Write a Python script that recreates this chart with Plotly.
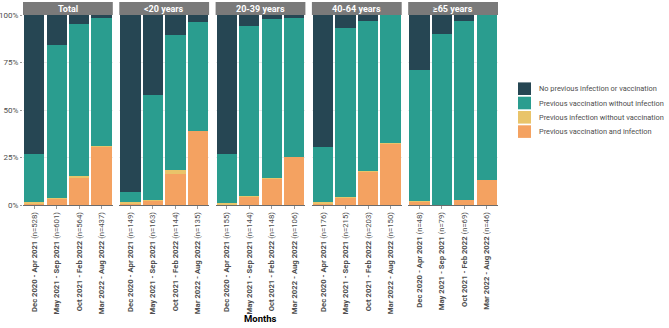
import plotly.graph_objects as go

# ---------------- data ----------------
periods = ["Dec 2020 - Apr 2021", "May 2021 - Sep 2021",
           "Oct 2021 - Feb 2022", "Mar 2022 - Aug 2022"]
groups = ["Total", "<20 years", "20-39 years", "40-64 years", "≥65 years"]
n_counts = [
    [528, 601, 564, 437],
    [149, 163, 144, 135],
    [155, 144, 148, 106],
    [176, 215, 203, 150],
    [48, 79, 69, 46],
]
# percentages per group (rows) and period (columns)
vacc_and_inf = [
    [1.0, 3.2, 14.5, 31.0],
    [0.3, 2.3, 16.5, 39.0],
    [0.5, 4.5, 13.7, 25.3],
    [0.8, 4.2, 17.5, 32.5],
    [1.8, 0.0, 2.8, 13.0],
]
inf_no_vacc = [
    [0.7, 0.3, 1.0, 0.2],
    [1.5, 0.2, 2.0, 0.2],
    [0.5, 0.1, 0.4, 0.1],
    [0.8, 0.1, 0.3, 0.2],
    [0.2, 0.0, 0.0, 0.0],
]
vacc_no_inf = [
    [25.3, 80.5, 79.8, 67.4],
    [5.2, 55.5, 71.1, 57.1],
    [26.0, 89.8, 83.8, 72.9],
    [28.9, 88.9, 78.9, 67.3],
    [68.8, 90.0, 94.2, 87.0],
]
no_prior = [
    [73.0, 16.0, 4.7, 1.4],
    [93.0, 42.0, 10.4, 3.7],
    [73.0, 5.6, 2.1, 1.7],
    [69.5, 6.8, 3.3, 0.0],
    [29.2, 10.0, 3.0, 0.0],
]
series_names = ["No previous infection or vaccination",
                "Previous vaccination without infection",
                "Previous infection without vaccination",
                "Previous vaccination and infection"]
y_ticks = [0, 25, 50, 75, 100]

# ---------------- style ----------------
colors = ["#264653", "#2a9d8f", "#e9c46a", "#f4a261"]
FONT = "Roboto, sans-serif"
TXT = "#4d4d4d"

W, H = 669, 328
L, R, T, B = 23, 171, 15, 123
pw, ph = W - L - R, H - T - B

def px(x):
    return (x - L) / pw

def py(y):
    return (H - B - y) / ph

fig = go.Figure()

stack = [(3, vacc_and_inf), (2, inf_no_vacc), (1, vacc_no_inf), (0, no_prior)]
for gi in range(len(groups)):
    xa = "x" if gi == 0 else f"x{gi + 1}"
    for si, vals in stack:
        fig.add_trace(go.Bar(
            x=periods, y=vals[gi], name=series_names[si],
            marker=dict(color=colors[si], line=dict(width=0)),
            xaxis=xa, yaxis="y", showlegend=False,
            hovertemplate="%{x}<br>%{y:.1f}%<extra>" + series_names[si] + "</extra>",
        ))

panel_w = 89.8
gap = (pw - 5 * panel_w) / 4
layout = dict(
    width=W, height=H,
    margin=dict(l=L, r=R, t=T, b=B, autoexpand=False),
    barmode="stack", bargap=0.1,
    plot_bgcolor="white", paper_bgcolor="white",
    font=dict(family=FONT, color=TXT, size=8),
    showlegend=False,
    yaxis=dict(range=[0, 100], tickvals=y_ticks,
               ticktext=[f"{v}%" for v in y_ticks],
               showgrid=True, gridcolor="#ebebeb", gridwidth=0.6,
               zeroline=False, ticks="outside", ticklen=2, tickcolor="#999",
               tickfont=dict(size=8, color=TXT), anchor="x", automargin=False),
)
shapes = []
annotations = []
for gi, g in enumerate(groups):
    key = "xaxis" if gi == 0 else f"xaxis{gi + 1}"
    d0 = gi * (panel_w + gap) / pw
    d1 = min(d0 + panel_w / pw, 1)
    layout[key] = dict(
        domain=[d0, d1], anchor="y",
        range=[-0.5, 3.5], type="category",
        tickvals=periods,
        ticktext=[f"<b>{p}</b> (n={n})" for p, n in zip(periods, n_counts[gi])],
        tickangle=-90, tickfont=dict(size=7.7, color=TXT),
        ticks="outside", ticklen=3, tickcolor="#999",
        showline=True, linecolor="#6b6b6b", linewidth=1,
        showgrid=False, zeroline=False, automargin=False,
    )
    shapes.append(dict(type="rect", xref="paper", yref="paper",
                       x0=d0, x1=d1, y0=1.0, y1=1 + 13 / ph,
                       fillcolor="#7a7a7a", line=dict(width=0), layer="below"))
    annotations.append(dict(text=f"<b>{g}</b>", xref="paper", yref="paper",
                            x=(d0 + d1) / 2, y=1 + 6.5 / ph,
                            showarrow=False, font=dict(color="white", size=9),
                            xanchor="center", yanchor="middle"))

annotations.append(dict(text="<b>Months</b>", xref="paper", yref="paper",
                        x=0.5, y=py(318), showarrow=False,
                        font=dict(color="black", size=9.5),
                        xanchor="center", yanchor="middle"))

# manual legend
for k, si in enumerate([0, 1, 2, 3]):
    cy = 88.7 + k * 14.3
    shapes.append(dict(type="rect", xref="paper", yref="paper",
                       x0=px(518), x1=px(531), y0=py(cy + 6.3), y1=py(cy - 6.3),
                       fillcolor=colors[si], line=dict(width=0)))
    annotations.append(dict(text=series_names[si], xref="paper", yref="paper",
                            x=px(537), y=py(cy), showarrow=False,
                            xanchor="left", yanchor="middle",
                            font=dict(size=7.4, color=TXT)))

layout["shapes"] = shapes
layout["annotations"] = annotations
fig.update_layout(**layout)
fig.write_html("out.html",
               config={"displayModeBar": False},
               post_script="document.body.style.margin='0';"
                           "document.body.style.overflow='hidden';")
